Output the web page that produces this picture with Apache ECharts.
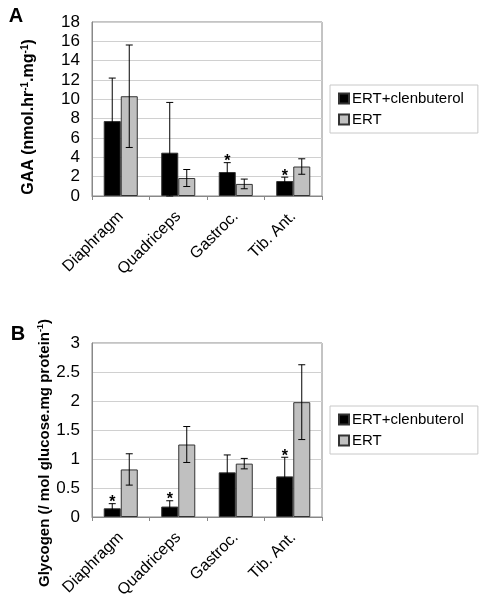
<!DOCTYPE html>
<html>
<head>
<meta charset="utf-8">
<script src="https://cdn.jsdelivr.net/npm/echarts@6/dist/echarts.min.js"></script>
<style>
html,body{margin:0;padding:0;background:#fff;}
#chart{width:481px;height:609px;}
</style>
</head>
<body>
<div id="chart"></div>
<script>
// ---- data ----
var categories = ['Diaphragm', 'Quadriceps', 'Gastroc.', 'Tib. Ant.'];
var seriesNames = ['ERT+clenbuterol', 'ERT'];
// Panel A: GAA activity
var gaaCombo = [7.75, 4.48, 2.48, 1.55];
var gaaComboErr = [4.45, 5.2, 0.97, 0.4];
var gaaErt = [10.32, 1.86, 1.25, 3.05];
var gaaErtErr = [5.3, 0.88, 0.5, 0.8];
var gaaStars = ['', '', '*', '*'];
// Panel B: Glycogen
var glyCombo = [0.15, 0.18, 0.77, 0.70];
var glyComboErr = [0.08, 0.1, 0.3, 0.33];
var glyErt = [0.82, 1.25, 0.92, 1.98];
var glyErtErr = [0.27, 0.31, 0.09, 0.645];
var glyStars = ['*', '*', '', '*'];
// axis ticks
var gaaTicks = [0, 2, 4, 6, 8, 10, 12, 14, 16, 18];
var glyTicks = [0, 0.5, 1, 1.5, 2, 2.5, 3];

var FONT = 'Liberation Sans, Arial, sans-serif';
var BAR_W = 0.296;

function errData(vals, errs) {
  return vals.map(function (v, i) { return [i, v, errs[i]]; });
}

function errRender(sign, stars) {
  return function (params, api) {
    var ci = api.value(0), v = api.value(1), e = api.value(2);
    var star = stars ? stars[params.dataIndex] : '';
    var band = api.size([1, 0])[0];
    var base = api.coord([ci, v]);
    var x = base[0] + sign * band * BAR_W / 2;
    var top = api.coord([ci, v + e])[1];
    var bot = api.coord([ci, Math.max(v - e, 0)])[1];
    var cap = 3.5;
    var st = { stroke: '#000', lineWidth: 1 };
    var children = [
      { type: 'line', shape: { x1: x, y1: top, x2: x, y2: bot }, style: st },
      { type: 'line', shape: { x1: x - cap, y1: top, x2: x + cap, y2: top }, style: st },
      { type: 'line', shape: { x1: x - cap, y1: bot, x2: x + cap, y2: bot }, style: st }
    ];
    if (star) {
      children.push({ type: 'text', x: x, y: top - 1,
        style: { text: star, font: 'bold 16px ' + FONT, fill: '#000', align: 'center', verticalAlign: 'middle' } });
    }
    return { type: 'group', children: children };
  };
}

function xAxisCfg(gi) {
  return {
    type: 'category', gridIndex: gi, data: categories,
    axisLine: { lineStyle: { color: '#888' } },
    axisTick: { show: true, length: 4, lineStyle: { color: '#888' } },
    axisLabel: { rotate: 45, fontSize: 16, color: '#000', fontFamily: FONT, margin: 18 }
  };
}
function yAxisCfg(gi, ticks) {
  return {
    type: 'value', gridIndex: gi, min: ticks[0], max: ticks[ticks.length - 1],
    interval: ticks[1] - ticks[0],
    axisLine: { show: true, lineStyle: { color: '#888' } },
    axisTick: { show: false },
    splitLine: { lineStyle: { color: '#d0d0d0' } },
    axisLabel: { fontSize: 17, color: '#000', fontFamily: FONT, margin: 12 }
  };
}
function barSeries(name, gi, data, color) {
  return {
    name: name, type: 'bar', xAxisIndex: gi, yAxisIndex: gi, data: data,
    barWidth: (BAR_W * 100) + '%', barGap: '0%',
    itemStyle: { color: color, borderColor: '#333', borderWidth: 1 },
    z: 2
  };
}
function errSeries(gi, vals, errs, stars, sign) {
  return {
    type: 'custom', xAxisIndex: gi, yAxisIndex: gi,
    data: errData(vals, errs), encode: { x: 0, y: 1 },
    renderItem: errRender(sign, stars), z: 5, silent: true
  };
}
function legendCfg(top) {
  return {
    data: seriesNames, orient: 'vertical', left: 330, top: top,
    width: 142, padding: [6, 14, 6, 8], itemGap: 6,
    itemWidth: 10, itemHeight: 10, icon: 'rect',
    borderColor: '#c8c8c8', borderWidth: 1,
    textStyle: { fontSize: 15, color: '#000', fontFamily: FONT, padding: [0, 0, 0, -2] }
  };
}

function titleRich(size) {
  return { sup: { fontSize: Math.round(size * 0.6), fontWeight: 'bold', fontFamily: FONT, verticalAlign: 'top', lineHeight: size + 2 },
           n: { fontSize: size, fontWeight: 'bold', fontFamily: FONT, lineHeight: size + 2 } };
}

var option = {
  animation: false,
  backgroundColor: '#fff',
  grid: [
    { left: 92, top: 22, width: 230, height: 174, show: true, borderColor: '#888', borderWidth: 1, backgroundColor: 'transparent' },
    { left: 92, top: 343, width: 230, height: 174, show: true, borderColor: '#888', borderWidth: 1, backgroundColor: 'transparent' }
  ],
  legend: [legendCfg(85), legendCfg(406)],
  xAxis: [xAxisCfg(0), xAxisCfg(1)],
  yAxis: [yAxisCfg(0, gaaTicks), yAxisCfg(1, glyTicks)],
  series: [
    barSeries(seriesNames[0], 0, gaaCombo, '#000000'),
    barSeries(seriesNames[1], 0, gaaErt, '#c0c0c0'),
    errSeries(0, gaaCombo, gaaComboErr, gaaStars, -1),
    errSeries(0, gaaErt, gaaErtErr, null, 1),
    barSeries(seriesNames[0], 1, glyCombo, '#000000'),
    barSeries(seriesNames[1], 1, glyErt, '#c0c0c0'),
    errSeries(1, glyCombo, glyComboErr, glyStars, -1),
    errSeries(1, glyErt, glyErtErr, null, 1)
  ],
  graphic: [
    { type: 'text', x: 16, y: 16, style: { text: 'A', font: 'bold 20px ' + FONT, fill: '#000', align: 'center', verticalAlign: 'middle' } },
    { type: 'text', x: 18, y: 334, style: { text: 'B', font: 'bold 20px ' + FONT, fill: '#000', align: 'center', verticalAlign: 'middle' } },
    { type: 'text', x: 29, y: 117, rotation: Math.PI / 2,
      style: { text: '{n|GAA (nmol.hr}{sup|-1}{n|.mg}{sup|-1}{n|)}', rich: titleRich(16), fill: '#000', align: 'center', verticalAlign: 'middle' } },
    { type: 'text', x: 45, y: 453, rotation: Math.PI / 2,
      style: { text: '{n|Glycogen (/ mol glucose.mg protein}{sup|-1}{n|)}', rich: titleRich(15), fill: '#000', align: 'center', verticalAlign: 'middle' } }
  ]
};

var chart = echarts.init(document.getElementById('chart'), null, { renderer: 'canvas' });
chart.setOption(option);
</script>
</body>
</html>
